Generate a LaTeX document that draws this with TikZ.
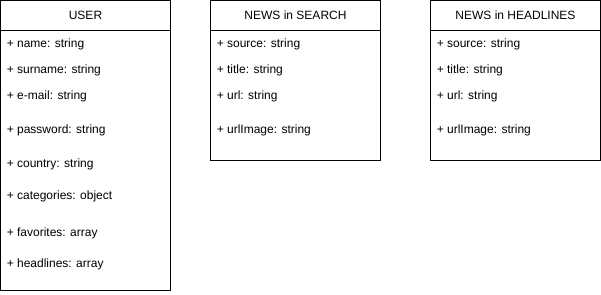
\documentclass[tikz,border=0pt]{standalone}
\usepackage{fontspec}
\setmainfont{Liberation Sans}
\usetikzlibrary{positioning}

\begin{document}
\begin{tikzpicture}[x=0.75pt, y=-0.75pt,
        titulo/.style={rectangle, draw, line width=0.75pt, outer sep=0pt, minimum width=127.5pt, minimum height=22.5pt, inner sep=0pt, font=\fontsize{9}{11}\selectfont},
        cuerpo/.style={rectangle, draw, line width=0.75pt, outer sep=0pt, minimum width=127.5pt, inner sep=0pt},
        atrib/.style={anchor=base west, inner sep=0pt, font=\fontsize{9}{11}\selectfont}]
        \useasboundingbox (0,0) rectangle (601,294);
        % clase usuario
        \node[titulo] (user) at (85.5,15.5) {USER};
        \node[cuerpo, minimum height=195pt, below=0pt of user] (userc) {};
        \node[atrib] (uname) at (6.5,47) {+ name: string};
        \node[atrib] (usurn) at (6.5,73) {+ surname: string};
        \node[atrib] (umail) at (6.5,99.5) {+ e-mail: string};
        \node[atrib] (upass) at (6.5,133) {+ password: string};
        \node[atrib] (ucoun) at (6.5,167) {+ country: string};
        \node[atrib] (ucate) at (6.5,199.5) {+ categories: object};
        \node[atrib] (ufavo) at (6.5,236.5) {+ favorites: array};
        \node[atrib] (uhead) at (6.5,267.5) {+ headlines: array};
        % noticias de busqueda
        \node[titulo] (search) at (295.5,15.5) {NEWS in SEARCH};
        \node[cuerpo, minimum height=97.5pt, below=0pt of search] (searchc) {};
        \node[atrib] (ssour) at (216.5,47) {+ source: string};
        \node[atrib] (stitl) at (216.5,73) {+ title: string};
        \node[atrib] (surl) at (216.5,99.5) {+ url: string};
        \node[atrib] (simg) at (216.5,133) {+ urlImage: string};
        % noticias de titulares
        \node[titulo] (headl) at (515.5,15.5) {NEWS in HEADLINES};
        \node[cuerpo, minimum height=97.5pt, below=0pt of headl] (headlc) {};
        \node[atrib] (hsour) at (436.5,47) {+ source: string};
        \node[atrib] (htitl) at (436.5,73) {+ title: string};
        \node[atrib] (hurl) at (436.5,99.5) {+ url: string};
        \node[atrib] (himg) at (436.5,133) {+ urlImage: string};
    \end{tikzpicture}
\end{document}
